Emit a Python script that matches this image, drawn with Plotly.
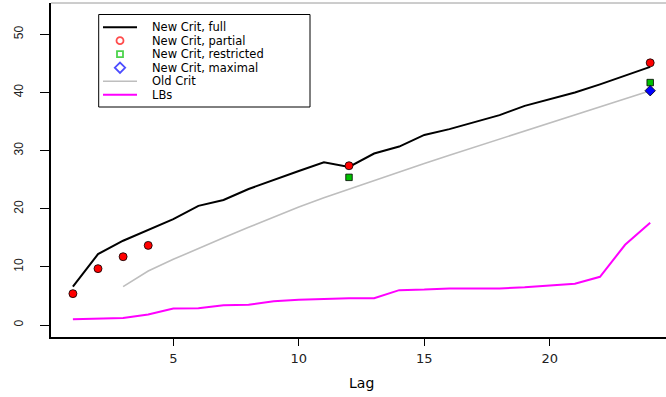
import plotly.graph_objects as go

# ---- data -------------------------------------------------------------
lag = list(range(1, 25))
new_full = [6.6, 12.2, 14.5, 16.4, 18.2, 20.5, 21.5, 23.4, 25.0, 26.5, 28.0, 27.2,
            29.5, 30.7, 32.7, 33.7, 34.9, 36.1, 37.7, 38.9, 40.0, 41.4, 42.9, 44.4]
partial_lag = [1, 2, 3, 4, 12, 24]
new_partial = [5.4, 9.7, 11.75, 13.7, 27.4, 45.1]
restricted_lag = [12, 24]
new_restricted = [25.4, 41.7]
maximal_lag = [24]
new_maximal = [40.3]
old_lag = list(range(3, 25))
old_crit = [6.6, 9.3, 11.3, 13.2, 15.0, 16.8, 18.6, 20.3, 21.9, 23.4, 24.9, 26.4,
            27.8, 29.2, 30.6, 32.0, 33.4, 34.7, 36.1, 37.5, 38.9, 40.3]
lbs = [1.0, 1.15, 1.2, 1.8, 2.85, 2.9, 3.4, 3.5, 4.1, 4.35, 4.5, 4.6,
       4.6, 6.0, 6.1, 6.3, 6.3, 6.3, 6.5, 6.8, 7.1, 8.3, 13.8, 17.6]
x_ticks = [5, 10, 15, 20]
y_ticks = [0, 10, 20, 30, 40, 50]

legend_labels = ["New Crit, full", "New Crit, partial", "New Crit, restricted",
                 "New Crit, maximal", "Old Crit", "LBs"]

RED, GREEN, BLUE = "#FF0000", "#00C000", "#0000FF"
GRAY, MAGENTA = "#BEBEBE", "#FF00FF"
FONT = "DejaVu Sans"

W, H = 666, 397
ML, MR, MT, MB = 51, 0, 3, 60

fig = go.Figure()

fig.add_trace(go.Scatter(x=lag, y=new_full, mode="lines",
                         line=dict(color="black", width=2)))
fig.add_trace(go.Scatter(x=old_lag, y=old_crit, mode="lines",
                         line=dict(color=GRAY, width=1.6)))
fig.add_trace(go.Scatter(x=lag, y=lbs, mode="lines",
                         line=dict(color=MAGENTA, width=2)))
fig.add_trace(go.Scatter(x=partial_lag, y=new_partial, mode="markers",
                         marker=dict(symbol="circle", size=8, color=RED,
                                     line=dict(color="black", width=0.8))))
fig.add_trace(go.Scatter(x=restricted_lag, y=new_restricted, mode="markers",
                         marker=dict(symbol="square", size=6.5, color=GREEN,
                                     line=dict(color="black", width=0.8))))
fig.add_trace(go.Scatter(x=maximal_lag, y=new_maximal, mode="markers",
                         marker=dict(symbol="diamond", size=8, color=BLUE,
                                     line=dict(color="black", width=0.8))))

# ---- legend box drawn in pixel space on an overlay axis pair ------------
def px(X):
    return (X - ML) / (W - ML - MR)

def py(Y):
    return 1 - (Y - MT) / (H - MT - MB)

box = dict(x0=98.7, x1=310, y0=14.5, y1=107)
row_top, row_step = 27.2, 13.5
rows_y = [row_top + i * row_step for i in range(len(legend_labels))]
sample_x0, sample_x1, text_x = 103, 137, 152

fig.add_shape(type="rect", xref="paper", yref="paper",
              x0=px(box["x0"]), x1=px(box["x1"]), y0=py(box["y1"]), y1=py(box["y0"]),
              line=dict(color="black", width=1), fillcolor="rgba(0,0,0,0)",
              layer="above")

line_rows = {0: ("black", 2), 4: (GRAY, 1.6), 5: (MAGENTA, 2)}
for i, (c, w) in line_rows.items():
    fig.add_shape(type="line", xref="paper", yref="paper",
                  x0=px(sample_x0), x1=px(sample_x1), y0=py(rows_y[i]), y1=py(rows_y[i]),
                  line=dict(color=c, width=w), layer="above")

sym_rows = [(1, "circle-open", RED, 7), (2, "square-open", GREEN, 6),
            (3, "diamond-open", BLUE, 8)]
fig.add_trace(go.Scatter(
    x=[(sample_x0 + sample_x1) / 2] * 3,
    y=[rows_y[r] for r, _, _, _ in sym_rows],
    mode="markers", xaxis="x2", yaxis="y2", cliponaxis=False,
    marker=dict(symbol=[s for _, s, _, _ in sym_rows],
                color=[c for _, _, c, _ in sym_rows],
                size=[z for _, _, _, z in sym_rows],
                line=dict(width=1.8, color=[c for _, _, c, _ in sym_rows]))))

for i, lab in enumerate(legend_labels):
    fig.add_annotation(x=px(text_x), y=py(rows_y[i]), xref="paper", yref="paper",
                       text=lab, showarrow=False, xanchor="left", yanchor="middle",
                       borderpad=0, borderwidth=0,
                       font=dict(family=FONT, size=11.5, color="black"))

# top border of the plotting region
fig.add_shape(type="line", xref="paper", yref="paper", x0=0, x1=1, y0=1, y1=1,
              line=dict(color="#9a9a9a", width=1))

# axis title
fig.add_annotation(x=12.5, y=py(383), xref="x", yref="paper", text="Lag",
                   showarrow=False, xanchor="center", yanchor="middle",
                   font=dict(family=FONT, size=14, color="black"))

fig.update_layout(
    width=W, height=H,
    margin=dict(l=ML, r=MR, t=MT, b=MB, pad=0),
    paper_bgcolor="white", plot_bgcolor="white",
    showlegend=False,
    xaxis=dict(range=[0.127, 24.63], tickvals=x_ticks, ticks="outside", ticklen=7,
               tickwidth=1, tickcolor="black", showline=True, linecolor="black",
               linewidth=1.5, showgrid=False, zeroline=False,
               tickfont=dict(family=FONT, size=13, color="#222"),
               ticklabelstandoff=2),
    yaxis=dict(range=[-2.06, 55.39], tickvals=y_ticks, ticks="outside", ticklen=9,
               tickwidth=1, tickcolor="black", showline=True, linecolor="black",
               linewidth=1.5, showgrid=False, zeroline=False, tickangle=-90,
               tickfont=dict(family="Liberation Sans", size=12, color="#222"),
               ticklabelstandoff=12),
    xaxis2=dict(range=[ML, W - MR], overlaying="x", visible=False, domain=[0, 1]),
    yaxis2=dict(range=[H - MB, MT], overlaying="y", visible=False, domain=[0, 1]),
)

fig.write_html("out.html")
